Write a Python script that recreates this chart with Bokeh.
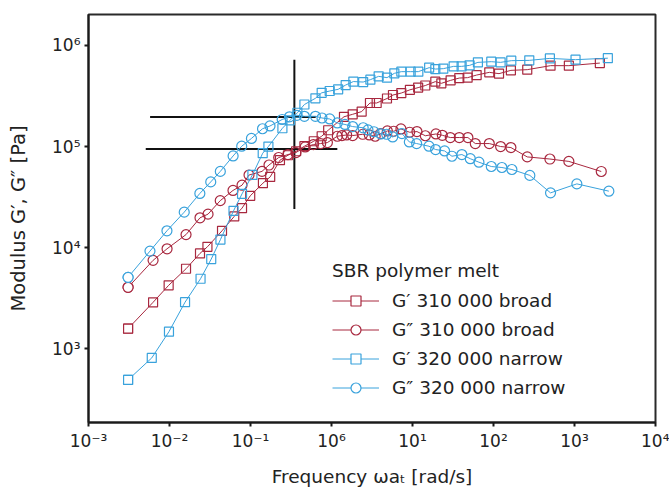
from bokeh.plotting import figure
from bokeh.models import (Range1d, FixedTicker, Legend, LegendItem, ColumnDataSource,
                          CDSView, IndexFilter)
from bokeh.embed import file_html
from bokeh.resources import INLINE

RED = "#a8283f"
BLUE = "#39a2dc"
FONT = "DejaVu Sans"
TXT = "#222222"

# ---- data ----
# G' 310 000 broad
gp_broad_w = [0.00308, 0.00627, 0.00976, 0.0160, 0.0238, 0.0294, 0.0445, 0.0630, 0.0786, 0.0992,
              0.1424, 0.175, 0.231, 0.290, 0.366, 0.463, 0.604, 0.756, 0.91, 1.426,
              1.826, 2.357, 2.985, 3.61, 4.84, 5.74, 7.28, 9.29, 11.74, 14.4,
              19.13, 22.7, 29.56, 37.8, 47.9, 61.9, 88.7, 117, 164, 261, 506, 852, 2056]
gp_broad = [1586, 2889, 4251, 6200, 8796, 10220, 14700, 20400, 24630, 32570,
            43460, 50150, 73300, 82100, 89900, 100800, 112900, 126500, 145000, 197000,
            208500, 221700, 269600, 269600, 298500, 323200, 338200, 363800, 382500, 401200,
            438300, 421700, 451400, 475600, 479900, 509200, 541400, 525700, 566600, 575700,
            630500, 630500, 668800]
# G'' 310 000 broad
gpp_broad_w = [0.00308, 0.00627, 0.00933, 0.0160, 0.0238, 0.0299, 0.0423, 0.0608, 0.0786, 0.0959,
               0.1387, 0.1692, 0.223, 0.290, 0.364, 0.473, 0.598, 0.735, 0.89, 1.18,
               1.346, 1.54, 1.826, 2.43, 2.93, 3.46, 4.05, 4.89, 5.85, 7.20,
               9.22, 11.35, 14.4, 19.46, 23.35, 29.3, 37.8, 48.3, 59.6, 88.7,
               122.4, 164, 261, 497, 852, 2140]
gpp_broad = [4063, 7506, 9766, 13490, 19760, 21490, 29200, 36830, 41530, 52360,
             56850, 65720, 77950, 83420, 87320, 99150, 104700, 107100, 109600, 126500,
             128500, 130200, 128500, 132300, 130200, 126500, 134500, 142700, 141700, 149300,
             138500, 140700, 127900, 133200, 129300, 122800, 122800, 122800, 107100, 107100,
             100100, 97810, 79030, 75330, 71340, 56720]
# G' 320 000 narrow
gp_narrow_w = [0.00308, 0.00604, 0.00985, 0.01556, 0.02417, 0.03276, 0.04255, 0.0617, 0.0786, 0.1056,
               0.1415, 0.1664, 0.2477, 0.3074, 0.379, 0.463, 0.633, 0.7566, 0.95, 1.209,
               1.496, 1.862, 2.46, 3.02, 3.82, 4.84, 5.97, 7.28, 9.49, 11.8,
               16.05, 19.13, 24.0, 32.2, 40.4, 50.7, 64.2, 93.9, 122.4, 165.8,
               276.6, 496.6, 1030, 2580]
gp_narrow = [494, 815, 1481, 2896, 4940, 7730, 12040, 23150, 34080, 52480,
             85960, 100100, 151700, 181900, 215800, 260500, 299900, 339800, 354000, 368000,
             405700, 439200, 434300, 458600, 494400, 479900, 529300, 550200, 550200, 550200,
             602400, 583600, 588800, 620500, 620500, 634700, 679500, 690400, 679500, 706300,
             711200, 744100, 722500, 747500]
# G'' 320 000 narrow
gpp_narrow_w = [0.00308, 0.00574, 0.0093, 0.0152, 0.0237, 0.0323, 0.0424, 0.0610, 0.0779, 0.1027,
                0.1407, 0.1741, 0.246, 0.303, 0.374, 0.463, 0.633, 0.763, 0.95, 1.18,
                1.466, 1.826, 2.46, 2.82, 3.344, 4.08, 4.80, 5.69, 7.41, 9.14,
                11.25, 15.96, 19.3, 24.9, 30.67, 40.7, 51.7, 66.1, 93.9, 127,
                168.7, 281, 506, 1069, 2655]
gpp_narrow = [5099, 9268, 14700, 22480, 34400, 44760, 56850, 80800, 100800, 120300,
              150000, 159800, 185200, 197000, 203800, 199200, 199200, 191600, 187400, 171100,
              165400, 157600, 153400, 145900, 140100, 133200, 132300, 124500, 134500, 111100,
              107100, 100800, 93480, 90550, 80270, 83420, 75850, 70050, 63520, 62090,
              59330, 51890, 34870, 42780, 36240]

# crossover marker lines
cross_w0 = [0.348, 0.00576, 0.00509]
cross_w1 = [0.348, 0.638, 1.18]
cross_g0 = [24100, 195600, 94500]
cross_g1 = [722000, 195600, 94500]

legend_title = "SBR polymer melt"
series_names = ["G′ 310 000 broad", "G″ 310 000 broad", "G′ 320 000 narrow", "G″ 320 000 narrow"]

x_ticks = [1e-3, 1e-2, 1e-1, 1e0, 1e1, 1e2, 1e3, 1e4]
x_tick_labels = ["10⁻³", "10⁻²", "10⁻¹", "10⁶", "10¹", "10²", "10³", "10⁴"]
y_ticks = [1e3, 1e4, 1e5, 1e6]
y_tick_labels = ["10³", "10⁴", "10⁵", "10⁶"]

x_title = "Frequency ωaₜ [rad/s]"
y_title = "Modulus G′, G″ [Pa]"

# ---- figure ----
p = figure(width=669, height=489, x_axis_type="log", y_axis_type="log",
           x_range=Range1d(1e-3, 1e4), y_range=Range1d(187.4, 2.02e6),
           output_backend="svg", toolbar_location=None,
           min_border_left=88, min_border_right=14, min_border_top=14, min_border_bottom=66)
p.xgrid.visible = False
p.ygrid.visible = False
p.outline_line_color = "#2a2a2a"
p.outline_line_width = 2
p.background_fill_color = "white"
p.border_fill_color = "white"

for ax in (p.xaxis[0], p.yaxis[0]):
    ax.axis_line_width = 2
    ax.axis_line_color = "#1a1a1a"
    ax.major_tick_line_width = 2
    ax.major_tick_line_color = "#1a1a1a"
    ax.major_tick_out = 4
    ax.major_tick_in = 0
    ax.minor_tick_line_color = None
    ax.major_label_text_font = FONT
    ax.major_label_text_font_size = "17px"
    ax.major_label_text_color = TXT
    ax.axis_label_text_font = FONT
    ax.axis_label_text_font_style = "normal"
    ax.axis_label_text_color = TXT

p.xaxis[0].ticker = FixedTicker(ticks=x_ticks, minor_ticks=[])
p.xaxis[0].major_label_overrides = dict(zip(x_ticks, x_tick_labels))
p.xaxis[0].major_label_standoff = 4
p.xaxis[0].axis_label = x_title
p.xaxis[0].axis_label_text_font_size = "18.5px"
p.xaxis[0].axis_label_standoff = 12

p.yaxis[0].ticker = FixedTicker(ticks=y_ticks, minor_ticks=[])
p.yaxis[0].major_label_overrides = dict(zip(y_ticks, y_tick_labels))
p.yaxis[0].major_label_standoff = 4
p.yaxis[0].axis_label = y_title
p.yaxis[0].axis_label_text_font_size = "19.5px"
p.yaxis[0].axis_label_standoff = 19

# crosshair lines
p.segment(x0=cross_w0, y0=cross_g0, x1=cross_w1, y1=cross_g1, line_color="#111111", line_width=2)

specs = [
    (gp_broad_w, gp_broad, RED, "square", 9),
    (gpp_broad_w, gpp_broad, RED, "circle", 10),
    (gp_narrow_w, gp_narrow, BLUE, "square", 9),
    (gpp_narrow_w, gpp_narrow, BLUE, "circle", 10),
]
items = []
for (w, g, color, marker, size), name in zip(specs, series_names):
    src = ColumnDataSource(dict(w=w, g=g))
    lr = p.line("w", "g", source=src, line_color=color, line_width=1)
    p.scatter("w", "g", source=src, marker=marker, size=size, line_color=color,
              line_width=1.2, fill_color=None)
    # white-filled copy of the first point, used as the legend glyph
    sr = p.scatter("w", "g", source=src, view=CDSView(filter=IndexFilter(indices=[0])),
                   marker=marker, size=size, line_color=color, line_width=1.2, fill_color="white")
    items.append(LegendItem(label=name, renderers=[lr, sr]))

legend = Legend(items=items, location=(244, 22), title=legend_title,
                border_line_color=None, background_fill_alpha=0, padding=0, margin=0,
                spacing=4, glyph_width=47, glyph_height=25, label_standoff=13, label_height=20,
                title_standoff=7,
                label_text_font=FONT, label_text_font_size="18.5px", label_text_color=TXT,
                title_text_font=FONT, title_text_font_size="18.5px", title_text_color=TXT,
                title_text_font_style="normal")
p.add_layout(legend)

open("out.html", "w").write(file_html(p, INLINE))
